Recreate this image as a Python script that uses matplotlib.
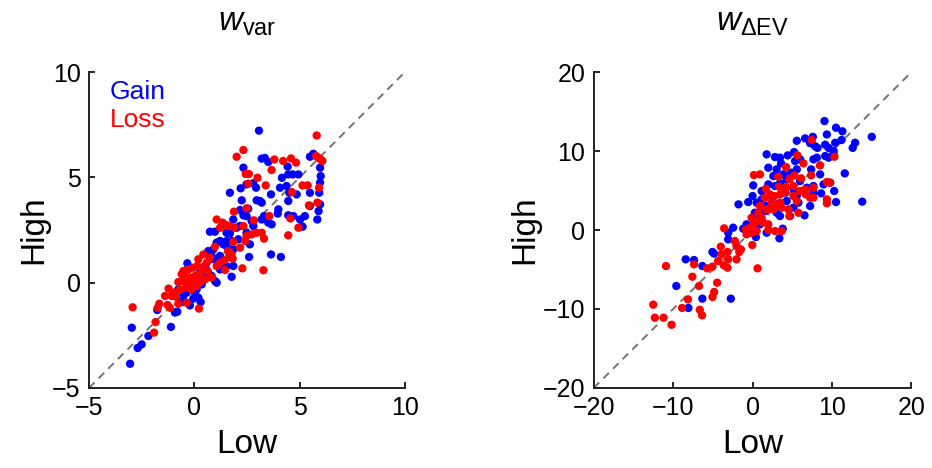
import numpy as np
import matplotlib.pyplot as plt

plt.rcParams['font.family'] = ['Liberation Sans', 'DejaVu Sans']
plt.rcParams['mathtext.fontset'] = 'custom'
plt.rcParams['mathtext.rm'] = 'Liberation Sans'
plt.rcParams['mathtext.it'] = 'Liberation Sans:italic'

# w_var panel (Low, High)
var_gain_low = [3.07, -3.05, -2.97, -2.69, -2.5, -2.18, -1.11, -1.76, -0.92, -0.81, -0.21, -0.05, 0.3, 1.77,
                2.6, 3.64, 4.11, 0.74, 0.98, 1.69, 2.33, 3.2, 3.35, 3.51, 4.43, 5.65, 5.49, 5.97, 6.0, 5.97,
                5.93, 5.97, 5.9, 5.84, 4.16, 4.46, 4.67, 4.94, 4.07, 4.38, 4.51, 4.86, 3.64, 3.12, 2.96, 3.2,
                2.2, 2.48, 2.8, 2.93, 2.25, 2.17, 2.56, 2.48, 2.33, 2.72, 3.2, 3.31, 3.51, 3.67, 3.96, 4.46,
                4.46, 4.7, 5.02, 5.25, 5.14, 5.49, 5.49, 2.17, 1.85, 1.53, 1.69, 1.77, 1.06, 1.22, 1.38, 1.53,
                1.85, 2.09, 2.48, 2.64, 0.9, 0.66, 0.82, 0.98, 1.22, 1.38, 1.53, 1.85, 0.51, 0.66, 0.82, 0.98,
                1.06, 0.27, 0.59, -0.21, -0.36, -0.52, 0.03, 0.19, -0.68, -0.33, -0.28, -0.76, 0.11, 0.74,
                1.53, 2.01, 2.8, 3.99, -0.05, 0.35, -0.49, 1.22]
var_gain_high = [7.22, -3.85, -2.14, -3.1, -2.93, -2.53, -2.1, -1.3, -1.42, -1.38, -1.08, -0.76, -0.92, 0.28,
                 1.22, 1.34, 1.22, 2.42, 2.42, 4.27, 5.46, 5.89, 5.92, 5.73, 5.51, 6.12, 5.98, 5.46, 5.06, 4.75,
                 4.27, 3.72, 3.4, 3.0, 4.98, 5.14, 5.14, 5.14, 4.51, 4.59, 4.27, 4.19, 4.19, 3.88, 3.91, 3.8,
                 4.48, 4.67, 4.72, 4.51, 3.91, 3.45, 3.51, 3.16, 3.2, 2.93, 3.0, 3.16, 2.85, 2.77, 3.28, 3.88,
                 3.2, 3.16, 3.0, 3.16, 2.66, 4.27, 3.64, 2.69, 3.0, 2.37, 2.34, 1.98, 1.9, 1.98, 1.82, 1.74,
                 1.58, 2.06, 2.37, 1.82, 1.58, 1.5, 1.27, 1.11, 1.27, 0.95, 0.79, 0.79, 0.79, 0.47, 0.32, 0.08,
                 0.0, 0.47, 0.24, -0.32, -0.47, -0.63, -0.47, -0.71, -0.79, 0.92, 0.71, -0.32, -0.32, 1.11,
                 1.98, 2.61, 2.69, 3.48, 0.16, -0.08, -0.92, 0.63]
var_loss_low = [5.81, 2.33, 2.01, 3.8, 4.22, 4.59, 4.83, 5.78, 5.89, 6.0, 6.08, 3.67, 2.44, 2.59, 3.0, 2.56,
                3.39, 5.14, 5.38, 5.92, 4.64, 5.44, 5.84, 2.48, 1.88, 1.06, 1.34, 1.5, 1.22, 1.66, 1.9, 2.33,
                2.83, 3.56, 4.56, 4.94, 4.46, 2.72, 2.96, 3.2, 3.31, 2.48, 2.41, 2.17, 1.85, 0.98, 1.61, 1.77,
                1.82, 1.64, 1.42, 1.46, 1.22, 0.74, 0.43, 0.19, 0.35, 0.63, 0.14, -0.05, -0.28, -0.52, -0.44,
                -0.21, 0.03, 0.19, -0.05, -0.28, -0.52, -0.76, -0.68, -0.4, -0.13, 0.11, 0.27, 0.51, -1.22,
                -0.97, -1.39, -1.08, -1.27, -1.66, -1.74, -1.16, -0.76, -0.36, 0.22, -2.93, -1.84, -1.91,
                2.28, 3.28, -0.87, -0.6, 0.27, 0.59, 1.06, 0.82]
var_loss_high = [6.99, 6.3, 5.98, 5.85, 5.78, 5.9, 5.7, 6.01, 5.93, 5.85, 5.78, 5.35, 5.16, 5.16, 4.98, 4.7,
                 4.62, 4.62, 4.62, 4.51, 4.3, 3.67, 3.8, 3.53, 3.37, 3.0, 2.85, 2.74, 2.61, 2.69, 2.61, 2.69,
                 2.96, 3.16, 3.05, 2.61, 2.25, 2.29, 2.37, 2.37, 2.09, 2.22, 1.98, 1.66, 1.93, 1.71, 1.5, 1.34,
                 1.14, 1.22, 1.06, 0.6, 0.95, 1.19, 1.34, 1.11, 0.71, 0.55, 0.79, 0.71, 0.63, 0.55, 0.32, 0.24,
                 0.32, 0.16, 0.0, 0.03, 0.08, 0.03, -0.32, -0.24, -0.32, -0.16, 0.03, 0.16, -0.28, -0.47,
                 -0.63, -0.63, -1.06, -1.0, -1.19, -1.19, -1.0, -0.95, -1.23, -1.17, -1.87, -2.37, 0.68,
                 0.59, -0.66, 0.4, 0.4, 0.95, 0.79, 0.24]

# w_dEV panel (Low, High)
ev_gain_low = [9.05, 10.5, 11.3, 15.0, 9.35, 12.9, 12.6, 11.2, 10.4, 9.56, 10.2, 9.14, 7.58, 6.61, 5.56,
               7.87, 8.17, 7.24, 9.14, 9.56, 7.66, 8.08, 5.22, 4.42, 3.45, 2.82, 1.77, 5.98, 5.35, 3.58,
               1.98, 3.03, 5.56, 7.37, 8.5, 11.6, 4.84, 3.87, 2.61, 0.08, 1.98, 3.45, 4.29, 5.98, 6.82, 8.93,
               10.27, 8.63, 10.5, 13.8, 0.0, -0.55, 0.51, 1.14, 1.77, 3.03, 4.29, 5.14, 5.77, 6.53, 4.72,
               3.45, -1.77, 0.29, 0.93, -0.76, -1.18, 0.42, 3.37, 3.79, 1.77, -2.44, -3.07, -3.07, -5.05,
               -4.84, -7.37, -8.42, -6.32, -9.6, -6.32, -2.74, -8.08, 2.82, 4.08, 5.14, 2.4, 1.14, 5.56,
               7.66, 7.24, 3.03, 0.93, 0.08, 7.66, 9.77, 10.2, 1.56]
ev_gain_high = [13.8, 12.95, 12.5, 11.8, 12.1, 11.05, 10.4, 11.4, 11.05, 10.4, 10.0, 10.8, 11.8, 11.6, 11.3,
                10.6, 10.4, 11.0, 9.37, 9.16, 8.95, 9.16, 9.87, 9.45, 9.16, 9.24, 9.58, 8.95, 8.73, 8.44,
                7.89, 7.68, 7.68, 7.68, 7.05, 7.17, 7.26, 7.05, 6.84, 5.65, 5.78, 5.91, 6.41, 6.2, 5.36, 5.78,
                4.94, 4.64, 3.54, 3.59, 4.3, 3.54, 3.46, 3.88, 3.04, 3.25, 3.67, 2.83, 3.46, 1.86, 1.77,
                1.77, 3.25, 2.19, 1.77, 0.72, 0.17, -0.89, -1.05, 0.17, -0.34, 0.3, -0.34, -1.18, -2.78,
                -2.99, -3.8, -3.71, -4.56, -7.09, -8.69, -8.69, -9.87, 5.57, 4.73, 5.15, 4.3, 4.94, 4.3,
                4.73, 3.04, 2.19, 0.72, -0.34, 5.57, 5.99, 9.58, 2.4]
ev_loss_low = [7.45, 10.3, 5.64, 6.4, 8.5, 4.21, 0.17, 0.93, 3.24, 4.63, 5.26, 6.11, 7.37, 9.35, 9.68, 1.68,
               3.32, 4.21, 5.14, 6.61, 7.66, 7.24, 7.66, 9.35, 9.35, 1.56, 2.19, 2.74, 3.45, 4.08, 5.14, 5.56,
               2.4, 3.03, 3.66, 4.5, 4.63, 5.77, 2.61, 1.77, 0.72, 1.14, 0.51, 1.35, 1.98, 0.08, -0.34, -0.84,
               -0.13, 0.51, -0.76, 1.98, 2.82, 3.66, -0.04, 0.63, -3.58, -2.23, -2.02, -1.47, -1.68, -2.02,
               -3.16, -3.92, -4.0, -3.07, -4.34, -5.05, -3.62, -3.16, -5.73, -7.37, -10.9, -7.58, -6.74,
               -4.46, -4.84, -5.05, -8.13, -8.88, -6.65, -6.36, -12.5, -12.3, -11.2, -10.2, -0.13, 0.93,
               3.45, 6.69, 5.98]
ev_loss_high = [11.4, 9.28, 9.45, 8.44, 8.19, 7.97, 6.96, 7.05, 6.75, 6.41, 6.92, 6.54, 6.92, 6.08, 5.99, 5.23,
                5.49, 5.44, 5.57, 5.15, 5.36, 4.09, 4.09, 3.88, 3.38, 4.09, 4.51, 4.3, 4.51, 4.81, 4.3, 3.67,
                3.46, 3.04, 2.83, 2.62, 1.77, 2.19, 2.62, 2.62, 2.19, 1.56, 1.14, 0.93, 0.72, 0.72, 0.3, 0.08,
                -0.34, -0.13, -0.55, 0.0, -0.13, -0.13, -1.9, -4.85, 0.21, -1.39, -2.03, -2.45, -2.78, -3.71,
                -2.78, -3.08, -2.11, -3.71, -3.92, -4.64, -4.47, -4.77, -4.85, -4.35, -4.56, -5.91, -7.09,
                -6.67, -7.85, -8.48, -8.78, -9.87, -10.1, -10.8, -9.45, -11.1, -11.1, -12.0, 1.56, 3.04,
                3.46, 4.51, 4.94]

panels = [
    (var_gain_low, var_gain_high, var_loss_low, var_loss_high, (-5, 10), [-5, 0, 5, 10], r'$w_{\mathrm{var}}$'),
    (ev_gain_low, ev_gain_high, ev_loss_low, ev_loss_high, (-20, 20), [-20, -10, 0, 10, 20], r'$w_{\Delta\mathrm{EV}}$'),
]

fig = plt.figure(figsize=(9.32, 4.68), dpi=100)
axes = [fig.add_axes([0.0955, 0.171, 0.339, 0.675]),
        fig.add_axes([0.637, 0.171, 0.341, 0.675])]

for ax, (gx, gy, lx, ly, lim, ticks, title) in zip(axes, panels):
    ax.plot(lim, lim, color='0.45', linestyle=(0, (4, 3)), linewidth=1.4, zorder=1)
    ax.scatter(gx, gy, s=36, color='blue', edgecolors='none', zorder=2, clip_on=False)
    ax.scatter(lx, ly, s=36, color='red', edgecolors='none', zorder=3, clip_on=False)
    ax.set_xlim(lim)
    ax.set_ylim(lim)
    ax.set_xticks(ticks)
    ax.set_yticks(ticks)
    ax.tick_params(direction='in', length=4, width=1.2, labelsize=18, colors='black', pad=6)
    for side in ['top', 'right']:
        ax.spines[side].set_visible(False)
    for side in ['left', 'bottom']:
        ax.spines[side].set_linewidth(1.4)
        ax.spines[side].set_color('#222222')
    ax.set_xlabel('Low', fontsize=24, labelpad=6)
    ax.set_ylabel('High', fontsize=24, labelpad=2)
    ax.set_title(title, fontsize=24, pad=30)

axes[0].text(0.066, 0.937, 'Gain', color='blue', fontsize=19, transform=axes[0].transAxes, va='center')
axes[0].text(0.066, 0.848, 'Loss', color='red', fontsize=19, transform=axes[0].transAxes, va='center')

plt.savefig('out.png', dpi=100)
